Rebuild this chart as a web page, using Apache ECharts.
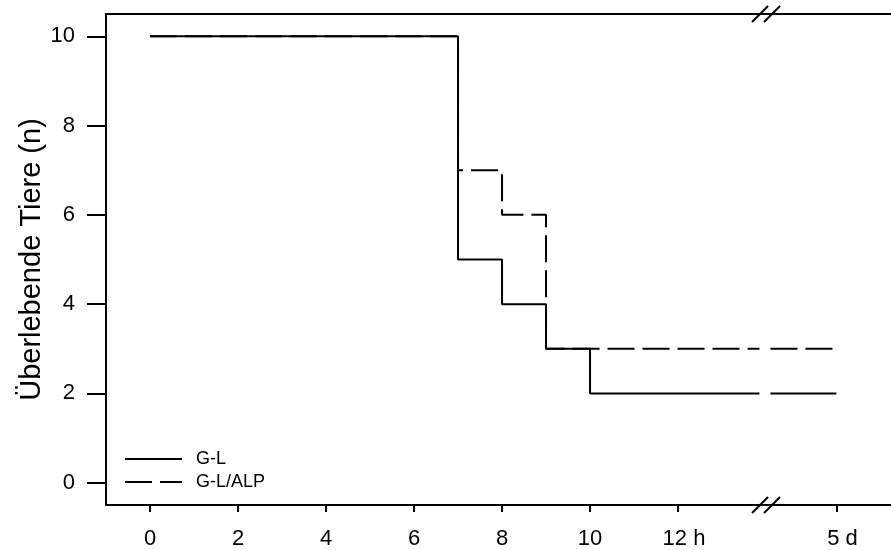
<!DOCTYPE html>
<html>
<head>
<meta charset="utf-8">
<script src="https://cdn.jsdelivr.net/npm/echarts@6/dist/echarts.min.js"></script>
<style>
  html, body { margin: 0; padding: 0; background: #fff; }
  #box1 { width: 891px; height: 550px; }
</style>
</head>
<body>
<div id="box1"></div>
<script>
// Zeitpunkte (h) und Anzahl überlebender Tiere
var glTimes = [0, 7, 8, 9, 10];
var glCounts = [10, 5, 4, 3, 2];
var alpTimes = [0, 7, 8, 9];
var alpCounts = [10, 7, 6, 3];
var endTime = 15.6;          // Position von "5d" auf der Achse
var breakFrom = 13.85, breakTo = 14.1;   // Achsenbruch
var xTicks = [0, 2, 4, 6, 8, 10, 12, 15.6];
var xTickLabels = ['0', '2', '4', '6', '8', '10', '12 h', '5 d'];
var yTicks = [0, 2, 4, 6, 8, 10];

// Treppenfunktion aus Zeiten/Werten bauen, mit Lücke am Achsenbruch
function steps(times, counts) {
    var pts = [];
    for (var i = 0; i < times.length; i++) {
        var next = i + 1 < times.length ? times[i + 1] : endTime;
        var c = counts[i];
        if (i > 0) pts.push([times[i], counts[i - 1]]);
        pts.push([times[i], c]);
        if (i === times.length - 1) {
            pts.push([breakFrom, c]);
            pts.push([breakFrom + 0.01, '-']);
            pts.push([breakTo, c]);
        }
        pts.push([next, c]);
    }
    return pts;
}

window.onload = function () {
    var myChart = echarts.init(document.getElementById('box1'));
    var font = 'Liberation Sans, Arial, sans-serif';

    var option = {
        animation: false,
        color: ['#000', '#000'],
        grid: { left: 106, top: 14, right: 0, bottom: 44 },
        legend: {
            orient: 'vertical',
            left: 119,
            top: 445,
            itemWidth: 57,
            itemHeight: 14,
            itemGap: 5,
            itemStyle: { opacity: 0 },
            textStyle: { fontFamily: font, fontSize: 18, lineHeight: 17, color: '#000', padding: [0, 0, 0, 9] },
            data: ['G-L', 'G-L/ALP']
        },
        xAxis: [{
            type: 'value',
            min: -1,
            max: 16.84,
            splitLine: { show: false },
            axisLine: { onZero: false, lineStyle: { color: '#000', width: 2 } },
            axisTick: { customValues: xTicks, length: 7, lineStyle: { color: '#000', width: 2 } },
            axisLabel: {
                customValues: xTicks,
                margin: 23,
                fontFamily: font,
                fontSize: 22,
                color: '#000',
                formatter: function (v) {
                    var i = xTicks.indexOf(v);
                    var t = i >= 0 ? xTickLabels[i] : '';
                    if (t.indexOf(' ') > 0) return '{u|' + t + '}';
                    return t;
                },
                rich: { u: { fontFamily: font, fontSize: 22, color: '#000', padding: [0, 0, 0, 12] } }
            }
        }, {
            type: 'value',
            position: 'top',
            min: -1,
            max: 16.84,
            splitLine: { show: false },
            axisLine: { show: true, onZero: false, lineStyle: { color: '#000', width: 2 } },
            axisTick: { show: false },
            axisLabel: { show: false }
        }],
        yAxis: {
            type: 'value',
            min: -0.5,
            max: 10.5,
            name: 'Überlebende Tiere (n)',
            nameLocation: 'middle',
            nameGap: 60,
            nameMoveOverlap: false,
            nameTextStyle: { fontFamily: font, fontSize: 29, color: '#000' },
            splitLine: { show: false },
            axisLine: { show: true, onZero: false, lineStyle: { color: '#000', width: 2 } },
            axisTick: { show: true, customValues: yTicks, length: 19, lineStyle: { color: '#000', width: 2 } },
            axisLabel: { customValues: yTicks, margin: 31, fontFamily: font, fontSize: 22, color: '#000' }
        },
        series: [{
            name: 'G-L/ALP',
            type: 'line',
            symbol: 'none',
            data: steps(alpTimes, alpCounts),
            itemStyle: { color: '#000' },
            lineStyle: { color: '#000', width: 2, type: [27, 8] },
            z: 2
        }, {
            name: 'G-L',
            type: 'line',
            symbol: 'none',
            data: steps(glTimes, glCounts),
            itemStyle: { color: '#000' },
            lineStyle: { color: '#000', width: 2, type: 'solid' },
            z: 3
        }]
    };
    myChart.setOption(option);

    // Bruchzeichen "//" auf der oberen und unteren Achse
    var bx = 14;
    var top = myChart.convertToPixel({ gridIndex: 0 }, [bx, 10.5]);
    var bot = myChart.convertToPixel({ gridIndex: 0 }, [bx, -0.5]);
    var marks = [];
    [top, bot].forEach(function (p) {
        [-8, 4].forEach(function (dx) {
            marks.push({
                type: 'line',
                shape: { x1: p[0] + dx - 6, y1: p[1] + 8, x2: p[0] + dx + 10, y2: p[1] - 8 },
                style: { stroke: '#000', lineWidth: 2 },
                z: 10
            });
        });
    });
    myChart.setOption({ graphic: marks });

    window.addEventListener('resize', function () {
        myChart.resize();
    });
};
</script>
</body>
</html>
